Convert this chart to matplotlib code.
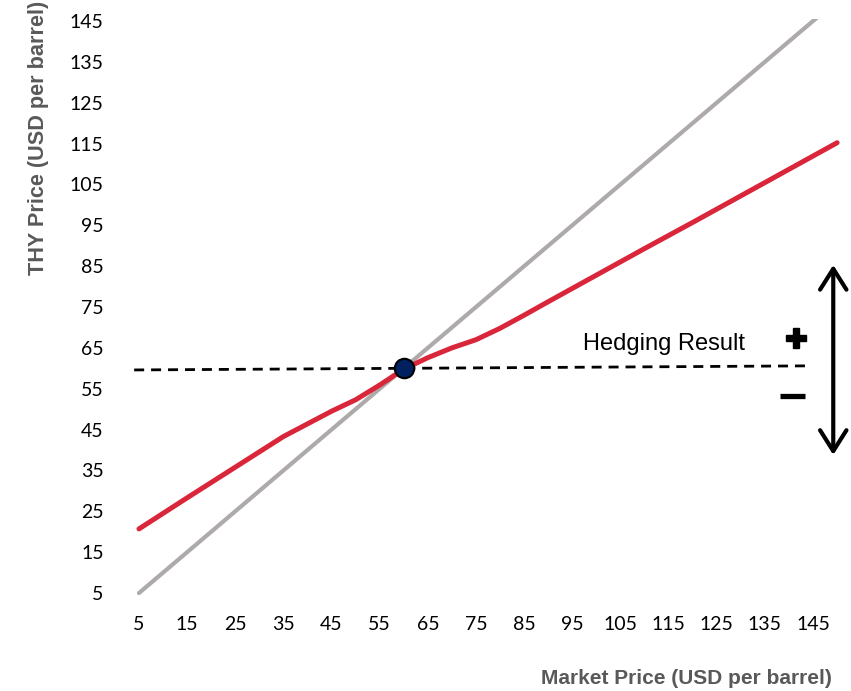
import matplotlib.pyplot as plt

# values
market_price = [5, 15, 25, 35, 45, 50, 55, 60, 65, 70, 75, 80, 85, 90, 100, 110, 120, 130, 140, 150]
thy_price = [20.7, 28.3, 35.8, 43.3, 49.5, 52.3, 55.9, 59.8, 62.6, 65.0, 67.0, 69.8, 73.0, 76.3,
             82.8, 89.3, 95.7, 102.2, 108.7, 115.2]
unhedged_x = [5, 150]
unhedged_y = [5, 150]
hedge_x = [4, 144]
hedge_y = [59.6, 60.6]
ticks = list(range(5, 146, 10))

fig = plt.figure(figsize=(8.51, 6.91), dpi=100)
ax = fig.add_axes([0.135, 0.124, 0.860, 0.8492])

ax.plot(unhedged_x, unhedged_y, color='#AEAAAA', lw=3.0, solid_capstyle='round', zorder=2)
ax.plot(market_price, thy_price, color='#D9263A', lw=3.6, solid_capstyle='round',
        solid_joinstyle='round', zorder=3)
ax.plot(hedge_x, hedge_y, color='black', lw=2.0, dashes=(3.6, 2.5), zorder=4, clip_on=False)
ax.plot([60], [60], 'o', ms=14, color='#002060', mec='black', mew=1.5, zorder=5)

ax.text(114.1, 65.9, 'Hedging Result', ha='center', va='center', fontsize=17,
        family='Liberation Sans', color='black')
ax.plot([141.5], [67.4], marker='P', ms=15, color='black', mec='black', clip_on=False)
ax.plot([138.2, 143.4], [53.3, 53.3], color='black', lw=3.8, solid_capstyle='butt', clip_on=False)
ax.annotate('', xy=(149.2, 85.3), xytext=(149.2, 38.8),
            arrowprops=dict(arrowstyle='<->, head_width=0.95, head_length=1.5', color='black',
                            lw=3.0, shrinkA=0, shrinkB=0, capstyle='round', joinstyle='round'),
            annotation_clip=False)

ax.set_xlim(0, 152)
ax.set_ylim(2, 145.6)
ax.set_xticks(ticks)
ax.set_yticks(ticks)
ax.tick_params(length=0, labelsize=14, pad=8, labelcolor='black')
for lab in ax.get_xticklabels() + ax.get_yticklabels():
    lab.set_family('Lato')
for s in ax.spines.values():
    s.set_visible(False)

fig.text(0.977, 0.018, 'Market Price (USD per barrel)', ha='right', va='center', fontsize=15,
         family='Liberation Sans', weight='bold', color='#595959')
fig.text(0.045, 0.80, 'THY Price (USD per barrel)', ha='center', va='center', rotation=90,
         fontsize=15.6, family='Liberation Sans', weight='bold', color='#595959')

fig.savefig('out.png', dpi=100)
